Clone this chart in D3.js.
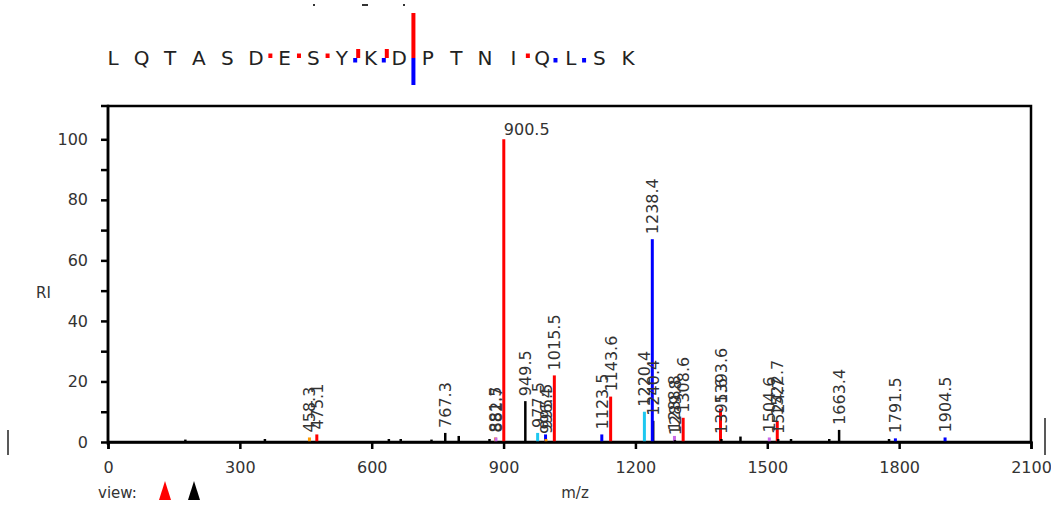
<!DOCTYPE html>
<html>
<head>
<meta charset="utf-8">
<script src="https://cdn.jsdelivr.net/npm/d3@7"></script>
<style>
  body { margin: 0; background: #fff; }
  svg { display: block; font-family: Verdana, "DejaVu Sans", sans-serif; }
</style>
</head>
<body>
<div id="chart"></div>
<script>
// PEPTIDE SEQUENCE + FRAGMENT MARKS (index = gap after letter i)
const sequence = ['L','Q','T','A','S','D','E','S','Y','K','D','P','T','N','I','Q','L','S','K'];
const bIonGaps = [5, 6, 7, 8, 9, 10, 14];
const bIonSize = [1, 1, 1, 2, 2, 10, 1];
const yIonGaps = [8, 9, 10, 15, 16];
const yIonSize = [1, 1, 6, 1, 1];

// SPECTRUM PEAKS
const peakMz    = [176, 357, 458.3, 475.1, 639, 666, 736, 767.3, 798, 868, 881.5, 882.7, 900.5, 949.5, 977.5, 995.5, 996.4, 1015.5, 1123.5, 1143.6, 1220.4, 1240.4, 1238.4, 1288.8, 1289.8, 1308.6, 1393.6, 1395.6, 1439, 1504.6, 1522.7, 1524.7, 1554, 1641, 1663.4, 1777, 1791.5, 1904.5];
const peakRI    = [0.8, 1, 1.5, 2.5, 1, 1, 0.8, 3, 2, 1, 1.5, 1.5, 100, 13.5, 3, 2.5, 1, 22, 2.5, 15, 10, 7, 67, 2, 0.6, 8, 11, 1, 1.8, 1.5, 7, 1, 1, 1, 4, 1, 1.2, 1.5];
const peakType  = ['o','o','orange','b','o','o','o','o','o','o','orange','purple','b','o','cyan','y','orange','b','y','b','cyan','o','y','purple','o','b','b','o','o','purple','b','o','o','o','o','o','y','y'];
const peakLabel = [0, 0, 1, 1, 0, 0, 0, 1, 0, 0, 1, 1, 1, 1, 1, 1, 1, 1, 1, 1, 1, 1, 1, 1, 1, 1, 1, 1, 0, 1, 1, 1, 0, 0, 1, 0, 1, 1];

const xTicks = [0, 300, 600, 900, 1200, 1500, 1800, 2100];
const yTicks = [0, 10, 20, 30, 40, 50, 60, 70, 80, 90, 100];

const colors = { b: '#ff0000', y: '#0000ff', cyan: '#1ec8f0', orange: '#ff9a00', purple: '#c868e8', o: '#000000' };

// VIZ DIMENSIONS
const width = 1051, height = 510;
const svg = d3.select('#chart').append('svg')
  .attr('width', width).attr('height', height);

const xScale = d3.scaleLinear().domain([0, 2100]).range([108, 1031]);
const yScale = d3.scaleLinear().domain([0, 111]).range([442, 106]);

// SEQUENCE
const seqX = d3.scaleLinear().domain([0, sequence.length - 1]).range([113, 628]);
const markY = 58, markUnit = 4.5;

svg.append('g').selectAll('text')
  .data(sequence).enter().append('text')
  .attr('x', (d, i) => seqX(i))
  .attr('y', 64.5)
  .attr('text-anchor', 'middle')
  .style('font-size', '20px')
  .style('fill', '#222')
  .text(d => d);

svg.append('g').selectAll('rect')
  .data(yIonGaps).enter().append('rect')
  .attr('x', (d, i) => seqX(d + 0.5) - (yIonSize[i] > 2 ? 2 : 3))
  .attr('y', markY)
  .attr('width', 4)
  .attr('height', (d, i) => yIonSize[i] * markUnit)
  .style('fill', colors.y);

svg.append('g').selectAll('rect')
  .data(bIonGaps).enter().append('rect')
  .attr('x', (d, i) => seqX(d + 0.5) - (bIonSize[i] === 2 ? 0 : 2))
  .attr('y', (d, i) => markY - bIonSize[i] * markUnit)
  .attr('width', 4)
  .attr('height', (d, i) => bIonSize[i] * markUnit)
  .style('fill', colors.b);

// cut-off header marks
[[313, 2], [362, 6], [403, 2]].forEach(m => {
  svg.append('rect').attr('x', m[0]).attr('y', 4).attr('width', m[1]).attr('height', 2).style('fill', '#333');
});

// AXES
const xAxis = d3.axisBottom(xScale).tickValues(xTicks).tickSize(7).tickPadding(13).tickFormat(d3.format('d'));
const yAxis = d3.axisLeft(yScale).tickValues(yTicks).tickSize(7).tickPadding(13)
  .tickFormat(d => d % 20 === 0 ? d : '');

svg.append('rect')
  .attr('x', xScale(0)).attr('y', yScale(111))
  .attr('width', xScale(2100) - xScale(0))
  .attr('height', yScale(0) - yScale(111))
  .style('fill', 'none').style('stroke', '#000').style('stroke-width', 2.5);

// PEAKS
const peaks = peakMz.map((mz, i) => ({ mz: mz, ri: peakRI[i], type: peakType[i], label: peakLabel[i] }));

svg.append('g').selectAll('line')
  .data(peaks).enter().append('line')
  .attr('x1', d => xScale(d.mz)).attr('x2', d => xScale(d.mz))
  .attr('y1', yScale(0)).attr('y2', d => yScale(d.ri))
  .style('stroke', d => colors[d.type])
  .style('stroke-width', d => d.type === 'o' ? 2.5 : 3);

const labelled = peaks.filter(d => d.label);
svg.append('g').selectAll('text')
  .data(labelled).enter().append('text')
  .attr('transform', d => d.ri >= 100
    ? `translate(${xScale(d.mz)}, ${yScale(d.ri) - 4})`
    : `translate(${xScale(d.mz) + 6}, ${yScale(d.ri) - 5}) rotate(-90)`)
  .style('font-size', '16px')
  .style('fill', '#333')
  .text(d => d.mz.toFixed(1));

const gx = svg.append('g').attr('transform', `translate(0, ${yScale(0)})`).call(xAxis);
const gy = svg.append('g').attr('transform', `translate(${xScale(0)}, 0)`).call(yAxis);
[gx, gy].forEach(g => {
  g.select('.domain').style('stroke-width', 2.5);
  g.selectAll('.tick line').style('stroke-width', 2.5);
  g.selectAll('.tick text').style('font-size', '16px').style('fill', '#333')
    .style('font-family', 'Verdana, "DejaVu Sans", sans-serif');
});
gy.select('.domain').attr('d', `M-7,${yScale(111)}H0V${yScale(0) + 3}`);

// TITLES
svg.append('text').attr('x', 36).attr('y', 298).style('font-size', '15px').style('fill', '#333').text('RI');
svg.append('text').attr('x', 575).attr('y', 498).attr('text-anchor', 'middle')
  .style('font-size', '15px').style('fill', '#333').text('m/z');
svg.append('text').attr('x', 98).attr('y', 498).style('font-size', '15px').style('fill', '#333').text('view:');

const tri = d3.line();
[['#ff0000', 165], ['#000000', 194]].forEach(t => {
  svg.append('path')
    .attr('d', tri([[t[1] - 6, 500], [t[1], 481], [t[1] + 6, 500]]) + 'Z')
    .style('fill', t[0]);
});

// edge artifacts
svg.append('line').attr('x1', 8).attr('x2', 8).attr('y1', 430).attr('y2', 455)
  .style('stroke', '#222').style('stroke-width', 1.5);
svg.append('line').attr('x1', 1045).attr('x2', 1045).attr('y1', 418).attr('y2', 455)
  .style('stroke', '#222').style('stroke-width', 1.5);
</script>
</body>
</html>
